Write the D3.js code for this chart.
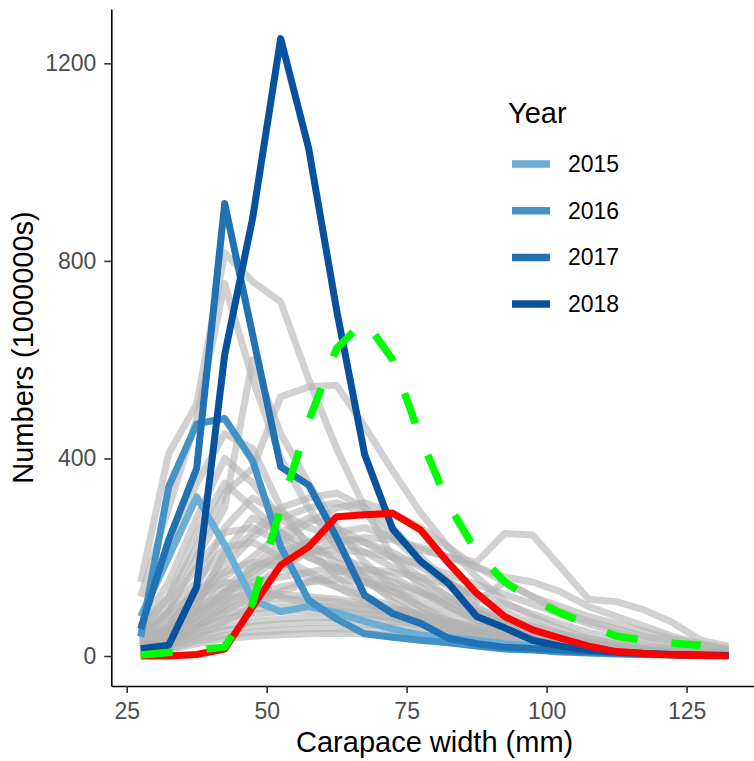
<!DOCTYPE html>
<html>
<head>
<meta charset="utf-8">
<script src="https://cdn.jsdelivr.net/npm/d3@7"></script>
<style>
  body { margin: 0; background: #fff; }
  text { font-family: "Liberation Sans", Arial, sans-serif; }
</style>
</head>
<body>
<script>
// Size of the picture
var w = 754;
var h = 761;

// Carapace width classes (mm)
var widths = [27.5, 32.5, 37.5, 42.5, 47.5, 52.5, 57.5, 62.5, 67.5, 72.5, 77.5,
              82.5, 87.5, 92.5, 97.5, 102.5, 107.5, 112.5, 117.5, 122.5, 127.5, 132.5];

// Highlighted years
var years = ["2015", "2016", "2017", "2018"];
var yearColors = ["#6BAED6", "#4292C6", "#2171B5", "#08519C"];
var y2015 = [80, 200, 322, 225, 113, 90, 100, 88, 70, 55, 42, 38, 32, 25, 20, 15, 11, 8, 5, 3, 2, 1];
var y2016 = [39, 343, 470, 481, 395, 221, 113, 75, 45, 38, 32, 27, 20, 14, 12, 8, 6, 4, 3, 2, 1, 1];
var y2017 = [55, 235, 380, 916, 650, 383, 346, 240, 123, 86, 66, 36, 25, 18, 15, 12, 9, 6, 4, 3, 2, 1];
var y2018 = [15, 22, 140, 610, 887, 1250, 1028, 700, 408, 257, 192, 147, 80, 57, 32, 20, 12, 8, 5, 3, 2, 1];

// Red reference line and green dashed line
var redLine = [0, 0, 3, 14, 100, 184, 221, 282, 286, 289, 255, 188, 127, 80, 53, 36, 20, 9, 5, 2, 1, 0];
var greenLine = [2, 7, 12, 18, 107, 300, 476, 623, 679, 600, 441, 306, 210, 150, 113, 87, 63, 40, 32, 26, 22];

// Other years, drawn in grey
var otherYears = [
  [150, 410, 510, 816, 758, 717, 560, 420, 300, 200, 140, 100, 70, 50, 35, 25, 15, 10, 6, 4, 2, 1],
  [120, 300, 480, 754, 560, 400, 300, 220, 160, 110, 80, 55, 40, 28, 20, 14, 10, 7, 5, 3, 2, 1],
  [60, 120, 220, 330, 380, 525, 545, 548, 465, 375, 290, 220, 160, 110, 80, 55, 35, 22, 14, 9, 5, 3],
  [20, 40, 70, 110, 160, 200, 230, 250, 260, 240, 215, 200, 190, 248, 245, 180, 115, 110, 93, 68, 32, 20],
  [40, 90, 200, 300, 600, 450, 350, 260, 190, 140, 100, 70, 50, 35, 25, 18, 12, 8, 5, 3, 2, 1],
  [80, 200, 350, 450, 420, 300, 220, 160, 120, 90, 65, 45, 30, 22, 15, 10, 7, 5, 3, 2, 1, 1],
  [30, 60, 120, 200, 250, 300, 320, 330, 300, 260, 200, 150, 110, 150, 120, 90, 70, 55, 40, 28, 15, 10],
  [20, 50, 110, 180, 240, 280, 300, 310, 290, 240, 190, 140, 100, 70, 50, 35, 25, 15, 10, 6, 4, 2],
  [50, 120, 250, 350, 300, 250, 200, 180, 150, 120, 90, 60, 40, 28, 20, 14, 10, 7, 5, 3, 2, 1],
  [25, 55, 100, 160, 200, 250, 280, 260, 230, 200, 160, 120, 90, 65, 45, 30, 20, 13, 8, 5, 3, 2],
  [15, 40, 80, 130, 170, 210, 230, 240, 230, 210, 180, 150, 120, 90, 65, 45, 30, 20, 12, 8, 5, 3],
  [40, 90, 150, 220, 230, 200, 170, 140, 110, 85, 65, 50, 38, 28, 20, 14, 10, 7, 5, 3, 2, 1],
  [35, 80, 130, 170, 190, 180, 160, 140, 120, 100, 80, 60, 45, 33, 24, 17, 12, 8, 5, 3, 2, 1],
  [20, 45, 90, 130, 150, 160, 170, 180, 170, 150, 130, 110, 90, 70, 55, 40, 28, 18, 12, 8, 5, 3],
  [10, 25, 55, 90, 120, 140, 150, 155, 150, 140, 125, 105, 85, 65, 48, 35, 25, 17, 11, 7, 4, 2],
  [30, 70, 120, 150, 140, 120, 105, 95, 85, 75, 65, 55, 45, 35, 27, 20, 14, 9, 6, 4, 2, 1],
  [25, 55, 90, 115, 125, 125, 120, 115, 105, 95, 85, 72, 60, 48, 37, 28, 20, 13, 8, 5, 3, 2],
  [20, 40, 70, 100, 110, 115, 115, 110, 100, 90, 78, 65, 52, 40, 30, 22, 15, 10, 6, 4, 2, 1],
  [15, 35, 60, 85, 95, 100, 102, 100, 95, 88, 78, 68, 56, 45, 35, 26, 18, 12, 8, 5, 3, 2],
  [12, 30, 55, 75, 85, 90, 92, 90, 85, 78, 70, 60, 50, 40, 31, 23, 16, 11, 7, 4, 2, 1],
  [10, 25, 45, 60, 70, 75, 78, 78, 75, 70, 63, 55, 46, 37, 29, 22, 15, 10, 6, 4, 2, 1],
  [8, 20, 38, 52, 60, 65, 68, 68, 65, 60, 55, 48, 40, 32, 25, 18, 12, 8, 5, 3, 2, 1],
  [6, 15, 30, 42, 48, 52, 55, 55, 53, 50, 45, 40, 34, 28, 22, 16, 11, 7, 4, 3, 2, 1],
  [5, 12, 25, 35, 40, 43, 45, 46, 45, 42, 38, 34, 29, 24, 19, 14, 10, 7, 4, 3, 2, 1],
  [15, 40, 100, 210, 280, 250, 220, 200, 180, 160, 130, 100, 75, 55, 40, 28, 18, 12, 8, 5, 3, 2],
  [30, 60, 140, 260, 320, 290, 260, 240, 210, 180, 150, 120, 95, 75, 60, 45, 35, 25, 18, 12, 8, 5],
  [20, 40, 80, 120, 180, 230, 270, 300, 310, 290, 260, 220, 180, 150, 120, 100, 80, 65, 50, 35, 22, 12],
  [10, 30, 60, 100, 140, 180, 210, 230, 240, 235, 220, 200, 180, 160, 150, 130, 100, 80, 60, 40, 25, 15],
  [45, 100, 180, 250, 260, 230, 200, 175, 150, 130, 110, 90, 72, 56, 42, 30, 20, 13, 8, 5, 3, 2],
  [25, 50, 90, 140, 180, 200, 210, 215, 210, 200, 185, 165, 145, 125, 105, 85, 65, 48, 34, 22, 13, 8],
  [60, 150, 280, 400, 350, 280, 230, 190, 160, 130, 100, 75, 55, 40, 28, 20, 14, 9, 6, 4, 2, 1],
  [10, 22, 40, 70, 100, 130, 150, 170, 175, 170, 160, 145, 125, 105, 85, 65, 48, 34, 22, 14, 8, 5]
];

// Tick values
var xTicks = [25, 50, 75, 100, 125];
var yTicks = [0, 400, 800, 1200];

// Scales (ggplot style 5% padding around the data)
var xScale = d3.scaleLinear()
               .domain([22.25, 137.75])
               .range([111.3, 758]);

var yScale = d3.scaleLinear()
               .domain([-60.7, 1310])
               .range([686, 9]);

var svg = d3.select("body")
            .append("svg")
            .attr("width", w)
            .attr("height", h);

// line generator: x from widths, y from the series
var line = d3.line()
             .x(function(d, i) { return xScale(widths[i]); })
             .y(function(d) { return yScale(d); });

// grey lines for all other years
svg.append("g")
   .selectAll("path")
   .data(otherYears)
   .enter()
   .append("path")
   .attr("d", line)
   .attr("fill", "none")
   .attr("stroke", "#b3b3b3")
   .attr("stroke-opacity", 0.6)
   .attr("stroke-width", 7)
   .attr("stroke-linejoin", "round");

// the four highlighted years
var yearSeries = [y2015, y2016, y2017, y2018];
svg.append("g")
   .selectAll("path")
   .data(yearSeries)
   .enter()
   .append("path")
   .attr("d", line)
   .attr("fill", "none")
   .attr("stroke", function(d, i) { return yearColors[i]; })
   .attr("stroke-width", 7)
   .attr("stroke-linejoin", "round");

// red line
svg.append("path")
   .datum(redLine)
   .attr("d", line)
   .attr("fill", "none")
   .attr("stroke", "#FF0000")
   .attr("stroke-width", 7)
   .attr("stroke-linejoin", "round");

// green dashed line
svg.append("path")
   .datum(greenLine)
   .attr("d", line)
   .attr("fill", "none")
   .attr("stroke", "#00FF00")
   .attr("stroke-width", 7.5)
   .attr("stroke-dasharray", "32,34")
   .attr("stroke-linejoin", "round");

// x axis
var xAxis = d3.axisBottom(xScale)
              .tickValues(xTicks)
              .tickFormat(d3.format("d"))
              .tickSize(7)
              .tickSizeOuter(0)
              .tickPadding(10);

var gx = svg.append("g")
   .attr("transform", "translate(0," + 686 + ")")
   .call(xAxis);

// y axis
var yAxis = d3.axisLeft(yScale)
              .tickValues(yTicks)
              .tickFormat(d3.format("d"))
              .tickSize(7)
              .tickSizeOuter(0)
              .tickPadding(8);

var gy = svg.append("g")
   .attr("transform", "translate(" + 111.3 + ",0)")
   .call(yAxis);

[gx, gy].forEach(function(g) {
  g.select(".domain").attr("stroke", "#000").attr("stroke-width", 1.6);
  g.selectAll(".tick line").attr("stroke", "#333").attr("stroke-width", 1.6);
  g.selectAll(".tick text")
   .attr("fill", "#4D4D4D")
   .attr("font-size", "23px")
   .attr("font-family", "Liberation Sans, Arial, sans-serif");
});

// axis titles
svg.append("text")
   .attr("text-anchor", "middle")
   .attr("x", (111.3 + 758) / 2)
   .attr("y", 752)
   .attr("font-size", "29px")
   .text("Carapace width (mm)");

svg.append("text")
   .attr("text-anchor", "middle")
   .attr("transform", "rotate(-90)")
   .attr("x", -(9 + 686) / 2)
   .attr("y", 33)
   .attr("font-size", "29px")
   .text("Numbers (1000000s)");

// legend
var legend = svg.append("g");

legend.append("text")
      .attr("x", 508)
      .attr("y", 123)
      .attr("font-size", "29px")
      .text("Year");

var keys = legend.selectAll(".key")
      .data(years)
      .enter()
      .append("g")
      .attr("class", "key")
      .attr("transform", function(d, i) { return "translate(0," + (164 + i * 46.7) + ")"; });

keys.append("line")
    .attr("x1", 512)
    .attr("x2", 550)
    .attr("stroke", function(d, i) { return yearColors[i]; })
    .attr("stroke-width", 7.5);

keys.append("text")
    .attr("x", 568)
    .attr("y", 8)
    .attr("font-size", "23px")
    .text(function(d) { return d; });
</script>
</body>
</html>
